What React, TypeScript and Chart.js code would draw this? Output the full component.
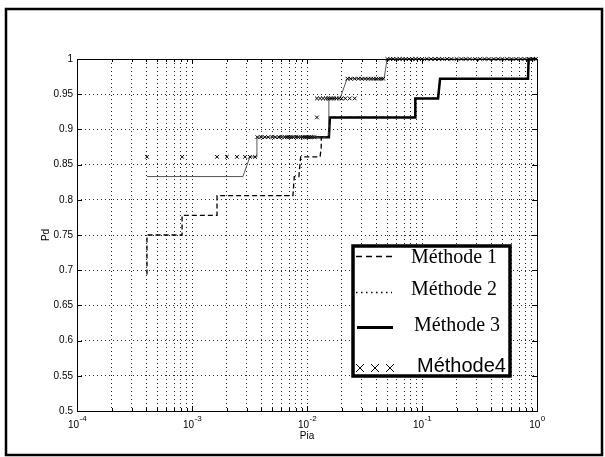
import React, { useEffect, useRef } from "react";
import { Chart, registerables } from "chart.js";

Chart.register(...registerables);

// ---- axis ticks ----
const yTicks = [0.5, 0.55, 0.6, 0.65, 0.7, 0.75, 0.8, 0.85, 0.9, 0.95, 1];
const yTickLabels = ["0.5", "0.55", "0.6", "0.65", "0.7", "0.75", "0.8", "0.85", "0.9", "0.95", "1"];
const xDecades = [1e-4, 1e-3, 1e-2, 1e-1, 1];
const xDecadeExponents = ["-4", "-3", "-2", "-1", "0"];
const xMinorMultipliers = [2, 3, 4, 5, 6, 7, 8, 9];

// ---- Méthode 1 (dashed) ----
const m1X = [4.06e-4, 4.06e-4, 4.06e-4, 8.2e-4, 8.2e-4, 1.65e-3, 1.65e-3, 7.55e-3, 7.75e-3, 8.5e-3, 8.8e-3, 0.013, 0.0133, 0.0133, 0.0155, 0.0158, 0.087, 0.0875, 0.138, 0.1436, 0.835, 0.85, 1];
const m1Y = [0.694, 0.722, 0.75, 0.75, 0.778, 0.778, 0.806, 0.806, 0.833, 0.833, 0.861, 0.861, 0.875, 0.889, 0.889, 0.917, 0.917, 0.944, 0.944, 0.972, 0.972, 1, 1];

// ---- Méthode 2 (dotted, thin) ----
const m2X = [4.06e-4, 2.77e-3, 3.19e-3, 3.67e-3, 3.67e-3, 0.0155, 0.0155, 0.0194, 0.0223, 0.0468, 0.0497, 1];
const m2Y = [0.833, 0.833, 0.861, 0.861, 0.889, 0.889, 0.944, 0.944, 0.972, 0.972, 1, 1];

// ---- Méthode 3 (thick solid) ----
const m3X = [0.0118, 0.0155, 0.0158, 0.087, 0.0875, 0.138, 0.1436, 0.835, 0.845, 1];
const m3Y = [0.889, 0.889, 0.917, 0.917, 0.944, 0.944, 0.972, 0.972, 1, 1];

// ---- Méthode4 (crosses) ----
const m4X = [
  4.06e-4, 8.2e-4, 1.65e-3, 2.01e-3, 2.46e-3, 2.89e-3, 3.19e-3, 3.53e-3,
  3.7e-3, 4.0e-3, 4.3e-3, 4.6e-3, 5.0e-3, 5.3e-3, 5.7e-3, 6.0e-3, 6.4e-3, 6.7e-3, 7.0e-3, 7.3e-3,
  7.6e-3, 8.0e-3, 8.4e-3, 8.8e-3, 9.2e-3, 9.6e-3, 0.01, 0.0104, 0.0108, 0.0112, 0.0116,
  0.0122,
  0.0122, 0.013, 0.0138, 0.0146, 0.0152, 0.0158, 0.0165, 0.0172, 0.018, 0.019, 0.02, 0.0215, 0.0235, 0.026,
  0.0225, 0.024, 0.026, 0.028, 0.03, 0.032, 0.034, 0.036, 0.038, 0.04, 0.042, 0.044, 0.046,
  0.05, 0.053, 0.056, 0.06, 0.064, 0.068, 0.072, 0.077, 0.082, 0.088, 0.094, 0.1, 0.11, 0.12,
  0.13, 0.14, 0.15, 0.165, 0.18, 0.2, 0.22, 0.24, 0.26, 0.29, 0.32, 0.35, 0.38, 0.42, 0.46,
  0.5, 0.55, 0.6, 0.66, 0.72, 0.78, 0.85, 0.92, 0.98,
];
const m4Y = [
  0.861, 0.861, 0.861, 0.861, 0.861, 0.861, 0.861, 0.861,
  0.889, 0.889, 0.889, 0.889, 0.889, 0.889, 0.889, 0.889, 0.889, 0.889, 0.889, 0.889,
  0.889, 0.889, 0.889, 0.889, 0.889, 0.889, 0.889, 0.889, 0.889, 0.889, 0.889,
  0.917,
  0.944, 0.944, 0.944, 0.944, 0.944, 0.944, 0.944, 0.944, 0.944, 0.944, 0.944, 0.944, 0.944, 0.944,
  0.972, 0.972, 0.972, 0.972, 0.972, 0.972, 0.972, 0.972, 0.972, 0.972, 0.972, 0.972, 0.972,
  1, 1, 1, 1, 1, 1, 1, 1, 1, 1, 1, 1, 1, 1,
  1, 1, 1, 1, 1, 1, 1, 1, 1, 1, 1, 1, 1, 1, 1,
  1, 1, 1, 1, 1, 1, 1, 1, 1,
];

const legendLabels = ["Méthode 1", "Méthode 2", "Méthode 3", "Méthode4"];
const xTitle = "Pia";
const yTitle = "Pd";

const toPts = (xs: number[], ys: number[]) => xs.map((x, i) => ({ x, y: ys[i] }));

const isDecade = (v: number) => xDecades.some((d) => Math.abs(v - d) / d < 1e-9);

const decorPlugin = {
  id: "decor",
  afterDraw(chart: any) {
    const ctx: CanvasRenderingContext2D = chart.ctx;
    const { left, right, top, bottom } = chart.chartArea;
    const xs = chart.scales.x;
    const ys = chart.scales.y;
    ctx.save();
    ctx.setLineDash([]);
    ctx.strokeStyle = "#000";
    ctx.fillStyle = "#000";

    // axes box
    ctx.lineWidth = 1;
    ctx.strokeRect(left + 0.5, top + 0.5, right - left, bottom - top);

    // inner ticks
    ctx.beginPath();
    yTicks.forEach((v) => {
      const py = Math.round(ys.getPixelForValue(v)) + 0.5;
      ctx.moveTo(left, py); ctx.lineTo(left + 5, py);
      ctx.moveTo(right, py); ctx.lineTo(right - 5, py);
    });
    xDecades.forEach((d, i) => {
      const all = [d, ...(i < xDecades.length - 1 ? xMinorMultipliers.map((m) => m * d) : [])];
      all.forEach((v) => {
        const px = Math.round(xs.getPixelForValue(v)) + 0.5;
        const len = isDecade(v) ? 5 : 3;
        ctx.moveTo(px, bottom); ctx.lineTo(px, bottom - len);
        ctx.moveTo(px, top); ctx.lineTo(px, top + len);
      });
    });
    ctx.stroke();

    // x tick labels with superscripts
    ctx.textBaseline = "alphabetic";
    ctx.textAlign = "left";
    xDecades.forEach((d, i) => {
      const px = xs.getPixelForValue(d);
      ctx.font = "10px 'Liberation Sans', Arial, sans-serif";
      const wb = ctx.measureText("10").width;
      ctx.font = "8px 'Liberation Sans', Arial, sans-serif";
      const we = ctx.measureText(xDecadeExponents[i]).width;
      const start = px - (wb + we) / 2;
      ctx.font = "10px 'Liberation Sans', Arial, sans-serif";
      ctx.fillText("10", start, 428);
      ctx.font = "8px 'Liberation Sans', Arial, sans-serif";
      ctx.fillText(xDecadeExponents[i], start + wb + 0.5, 421);
    });

    // axis titles
    ctx.font = "10px 'Liberation Sans', Arial, sans-serif";
    ctx.textAlign = "center";
    ctx.textBaseline = "middle";
    ctx.fillText(xTitle, 307, 436);
    ctx.save();
    ctx.translate(46, 235);
    ctx.rotate(-Math.PI / 2);
    ctx.fillText(yTitle, 0, 0);
    ctx.restore();

    // outer frame
    ctx.lineWidth = 2.5;
    ctx.strokeRect(6, 9, 596, 446);

    // legend
    const lx = 353, ly = 246, lw = 157, lh = 130;
    ctx.fillStyle = "#fff";
    ctx.fillRect(lx, ly, lw, lh);
    ctx.lineWidth = 3.5;
    ctx.strokeStyle = "#000";
    ctx.strokeRect(lx, ly, lw, lh);
    ctx.fillStyle = "#000";

    // samples
    ctx.lineWidth = 1.3;
    ctx.setLineDash([6, 4]);
    ctx.beginPath(); ctx.moveTo(356, 256.5); ctx.lineTo(393, 256.5); ctx.stroke();
    ctx.setLineDash([1.5, 3.5]);
    ctx.beginPath(); ctx.moveTo(356, 292.5); ctx.lineTo(392, 292.5); ctx.stroke();
    ctx.setLineDash([]);
    ctx.lineWidth = 3;
    ctx.beginPath(); ctx.moveTo(357, 327.5); ctx.lineTo(393, 327.5); ctx.stroke();
    ctx.lineWidth = 1;
    [360, 375, 390].forEach((cx) => {
      ctx.beginPath();
      ctx.moveTo(cx - 4, 364); ctx.lineTo(cx + 4, 372);
      ctx.moveTo(cx + 4, 364); ctx.lineTo(cx - 4, 372);
      ctx.stroke();
    });

    ctx.textAlign = "left";
    ctx.textBaseline = "alphabetic";
    ctx.font = "20px 'Liberation Serif', 'Times New Roman', serif";
    ctx.fillText(legendLabels[0], 411, 263);
    ctx.fillText(legendLabels[1], 411, 295);
    ctx.fillText(legendLabels[2], 414, 331);
    ctx.font = "20px 'Liberation Sans', Arial, sans-serif";
    ctx.fillText(legendLabels[3], 417, 372);

    ctx.restore();
  },
};

export default function App() {
  const ref = useRef<HTMLCanvasElement | null>(null);

  useEffect(() => {
    if (!ref.current) return;
    const gridValues: number[] = [];
    xDecades.forEach((d, i) => {
      gridValues.push(d);
      if (i < xDecades.length - 1) xMinorMultipliers.forEach((m) => gridValues.push(m * d));
    });

    const chart = new Chart(ref.current, {
      type: "scatter",
      data: {
        datasets: [
          {
            label: legendLabels[3],
            data: toPts(m4X, m4Y),
            showLine: false,
            pointStyle: "crossRot",
            pointRadius: 2.6,
            borderColor: "#000",
            backgroundColor: "#000",
            borderWidth: 1,
            clip: false,
          } as any,
          {
            label: legendLabels[0],
            data: toPts(m1X, m1Y),
            showLine: true,
            pointRadius: 0,
            borderColor: "#000",
            borderWidth: 1.3,
            borderDash: [5, 3],
            clip: false,
          } as any,
          {
            label: legendLabels[1],
            data: toPts(m2X, m2Y),
            showLine: true,
            pointRadius: 0,
            borderColor: "#555",
            borderWidth: 1,
            clip: false,
          } as any,
          {
            label: legendLabels[2],
            data: toPts(m3X, m3Y),
            showLine: true,
            pointRadius: 0,
            borderColor: "#000",
            borderWidth: 2.5,
            clip: false,
          } as any,
        ],
      },
      options: {
        responsive: false,
        animation: false,
        devicePixelRatio: 1,
        layout: { padding: { left: 0, right: 68, top: 59, bottom: 0 } },
        plugins: { legend: { display: false }, tooltip: { enabled: false }, title: { display: false } },
        scales: {
          x: {
            type: "logarithmic",
            min: 1e-4,
            max: 1,
            afterBuildTicks: (scale: any) => {
              scale.ticks = gridValues.map((v) => ({ value: v, major: isDecade(v) }));
            },
            afterFit: (scale: any) => {
              scale.height = 46;
            },
            ticks: { display: false, autoSkip: false },
            grid: { color: "rgba(0,0,0,0.85)", lineWidth: 1, drawTicks: false },
            border: { display: false, dash: [1, 3] },
          },
          y: {
            type: "linear",
            min: 0.5,
            max: 1,
            afterBuildTicks: (scale: any) => {
              scale.ticks = yTicks.map((v) => ({ value: v }));
            },
            afterFit: (scale: any) => {
              scale.width = 77;
            },
            ticks: {
              autoSkip: false,
              padding: 4,
              color: "#000",
              font: { family: "'Liberation Sans', Arial, sans-serif", size: 10 },
              callback: (_v: any, i: number) => yTickLabels[i],
            },
            grid: { color: "rgba(0,0,0,0.85)", lineWidth: 1, drawTicks: false },
            border: { display: false, dash: [1, 3] },
          },
        },
      } as any,
      plugins: [decorPlugin],
    });
    return () => chart.destroy();
  }, []);

  return (
    <div style={{ position: "absolute", left: 0, top: 0, width: 605, height: 457, background: "#fff" }}>
      <canvas ref={ref} width={605} height={457} style={{ width: 605, height: 457, display: "block" }} />
    </div>
  );
}
